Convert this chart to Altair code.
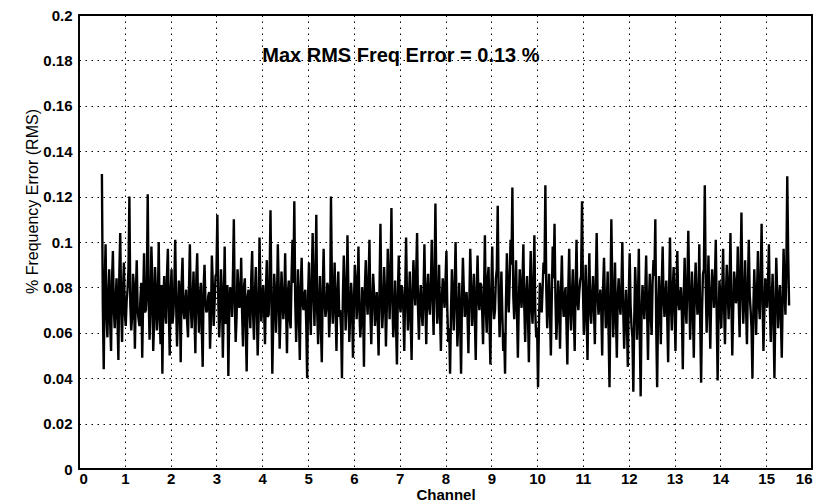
import altair as alt
import pandas as pd

# RMS frequency error (thousandths of a percent), read every 0.04 channel from 0.5 to 15.5
ERR_MILLI = [
    130, 44, 99, 58, 88, 52, 96, 62, 84, 48, 104, 56, 91, 63, 79, 120, 61, 86, 53, 92, 66, 75, 49, 95, 70,
    121, 57, 98, 52, 89, 61, 100, 55, 42, 85, 64, 97, 50, 88, 68, 101, 54, 83, 47, 93, 66, 79, 58, 99, 62,
    87, 51, 95, 60, 82, 45, 90, 69, 76, 53, 94, 63, 85, 112, 58, 88, 49, 98, 65, 41, 80, 67, 110, 56, 88,
    71, 93, 54, 84, 43, 79, 62, 96, 57, 89, 50, 102, 65, 81, 55, 92, 68, 114, 42, 86, 60, 99, 53, 87, 66,
    95, 51, 83, 62, 101, 118, 56, 88, 48, 93, 70, 79, 40, 91, 59, 104, 63, 112, 55, 85, 47, 97, 67, 82, 58,
    120, 64, 91, 52, 87, 70, 40, 94, 61, 103, 56, 82, 49, 90, 66, 98, 58, 80, 45, 92, 68, 101, 55, 86, 63,
    78, 50, 108, 62, 89, 54, 97, 66, 115, 58, 83, 46, 94, 69, 79, 52, 102, 61, 87, 48, 92, 72, 104, 57, 81,
    63, 99, 55, 86, 68, 101, 59, 117, 64, 90, 52, 84, 71, 96, 56, 42, 88, 61, 100, 54, 82, 42, 93, 67, 78,
    51, 97, 63, 86, 48, 94, 70, 81, 55, 103, 60, 89, 46, 98, 66, 84, 116, 58, 87, 52, 42, 95, 69, 101, 124,
    66, 92, 49, 88, 71, 99, 56, 85, 47, 96, 64, 103, 58, 36, 82, 69, 91, 125, 62, 86, 50, 98, 108, 57, 83,
    53, 94, 67, 80, 46, 97, 61, 88, 52, 101, 70, 83, 118, 59, 90, 48, 95, 64, 85, 55, 104, 68, 79, 50, 93,
    62, 87, 36, 110, 58, 91, 49, 84, 68, 100, 53, 79, 45, 95, 63, 34, 89, 57, 97, 32, 81, 66, 94, 48, 86,
    59, 92, 110, 36, 85, 55, 98, 67, 83, 47, 102, 61, 89, 52, 96, 70, 80, 44, 93, 64, 105, 57, 87, 49, 91,
    68, 99, 38, 86, 125, 60, 94, 53, 88, 71, 101, 39, 83, 62, 97, 55, 90, 66, 104, 50, 87, 73, 98, 58, 113,
    64, 92, 55, 101, 70, 40, 88, 59, 96, 66, 108, 52, 84, 71, 99, 56, 86, 40, 93, 62, 81, 49, 97, 68, 129,
    72,
]
# readings half-way between the samples above (0.52, 0.56, ... channel)
MID_MILLI = [
    72, 81, 68, 77, 64, 83, 70, 75, 66, 86, 71, 78, 69, 74, 88, 73, 67, 80, 76, 70, 63, 82, 74, 69, 79,
    76, 70, 84, 65, 78, 72, 67, 81, 74, 69, 85, 71, 77, 64, 80, 73, 68, 76, 82, 70, 74, 65, 79, 72, 75,
    68, 83, 71, 77, 62, 80, 74, 70, 78, 66, 82, 73, 86, 75, 69, 77, 72, 64, 81, 70, 78, 85, 73, 67, 80,
    74, 69, 80, 63, 76, 71, 84, 68, 77, 72, 66, 81, 74, 70, 79, 67, 83, 75, 65, 78, 72, 80, 69, 76, 73,
    70, 78, 66, 85, 82, 74, 71, 67, 80, 73, 77, 64, 76, 70, 82, 78, 84, 69, 73, 62, 79, 74, 71, 80, 68,
    84, 75, 70, 78, 67, 62, 76, 81, 72, 79, 68, 74, 71, 83, 77, 70, 65, 74, 80, 76, 82, 69, 73, 78, 70,
    66, 80, 75, 71, 78, 72, 83, 85, 74, 68, 63, 77, 73, 81, 70, 79, 75, 72, 66, 78, 80, 86, 71, 74, 69,
    77, 73, 79, 72, 81, 76, 84, 80, 72, 68, 75, 78, 83, 70, 62, 69, 74, 80, 73, 66, 64, 75, 79, 71, 68,
    74, 80, 72, 67, 78, 75, 82, 70, 77, 71, 84, 65, 79, 73, 70, 88, 77, 72, 69, 60, 74, 78, 82, 90, 76,
    77, 70, 73, 78, 83, 71, 76, 68, 79, 72, 81, 69, 62, 64, 75, 80, 86, 79, 73, 70, 76, 84, 75, 68, 72,
    78, 73, 76, 64, 79, 71, 77, 69, 80, 74, 78, 85, 80, 72, 67, 79, 70, 76, 71, 82, 77, 73, 70, 80, 75,
    72, 60, 74, 82, 71, 67, 76, 73, 80, 70, 68, 64, 76, 72, 58, 66, 77, 74, 60, 69, 73, 78, 70, 74, 68,
    82, 85, 62, 70, 72, 81, 75, 77, 66, 78, 73, 79, 71, 80, 74, 77, 68, 76, 71, 83, 79, 72, 70, 78, 77,
    73, 64, 70, 88, 82, 75, 71, 76, 80, 83, 68, 66, 75, 78, 72, 76, 79, 81, 73, 70, 82, 77, 74, 86, 78,
    76, 71, 80, 77, 62, 70, 75, 78, 73, 84, 76, 69, 77, 83, 72, 74, 66, 71, 78, 73, 67, 75, 80, 88, 95,
]
CH_START = 0.5
CH_STEP = 0.04

X_DOMAIN = [0, 16]
Y_DOMAIN = [0, 0.2]
X_TICKS = list(range(0, 17))
Y_TICKS = [0, 0.02, 0.04, 0.06, 0.08, 0.1, 0.12, 0.14, 0.16, 0.18, 0.2]

ANNOT_TEXT = ["Max RMS Freq Error = 0.13 %"]
ANNOT_X = [4.0]
ANNOT_Y = [0.182]

chan, err = [], []
for i, v in enumerate(ERR_MILLI):
    chan.append(CH_START + CH_STEP * i)
    err.append(v / 1000)
    if i < len(MID_MILLI) and i < len(ERR_MILLI) - 1:
        chan.append(CH_START + CH_STEP * i + CH_STEP / 2)
        err.append(MID_MILLI[i] / 1000)

df = pd.DataFrame({"channel": chan, "err": err})
ann = pd.DataFrame({"x": ANNOT_X, "y": ANNOT_Y, "t": ANNOT_TEXT})
frame = pd.DataFrame({"x0": [X_DOMAIN[0]], "x1": [X_DOMAIN[1]],
                      "y0": [Y_DOMAIN[0]], "y1": [Y_DOMAIN[1]]})

FONT = "Liberation Sans"

xscale = alt.Scale(domain=X_DOMAIN, nice=False, zero=False)
yscale = alt.Scale(domain=Y_DOMAIN, nice=False)

GRID = dict(grid=True, gridDash=[1.5, 4.5], gridColor="black", gridOpacity=1, gridWidth=1)

line = alt.Chart(df).mark_line(color="black", strokeWidth=2.4).encode(
    x=alt.X("channel:Q", scale=xscale,
            axis=alt.Axis(values=X_TICKS, format="d", title="Channel", ticks=False, domain=False,
                          labelFont=FONT, labelFontSize=15, labelFontWeight="bold",
                          labelColor="black", labelPadding=2,
                          titleFont=FONT, titleFontSize=15, titleFontWeight="bold",
                          titleColor="black", titlePadding=1, **GRID)),
    y=alt.Y("err:Q", scale=yscale,
            axis=alt.Axis(values=Y_TICKS, format="~g", title="% Frequency Error (RMS)",
                          ticks=False, domain=False,
                          labelFont=FONT, labelFontSize=15, labelFontWeight="bold",
                          labelColor="black", labelPadding=7,
                          titleFont=FONT, titleFontSize=16, titleFontWeight="normal",
                          titleColor="black", titleX=-39, titleY=186, **GRID)),
)

box = alt.Chart(frame).mark_rect(fill="white", fillOpacity=0, stroke="#000000",
                                 strokeOpacity=1, strokeWidth=1.8).encode(
    x=alt.X("x0:Q", scale=xscale),
    x2="x1:Q",
    y=alt.Y("y0:Q", scale=yscale),
    y2="y1:Q",
)

text = alt.Chart(ann).mark_text(align="left", baseline="middle", font=FONT,
                                fontSize=20, fontWeight="bold", color="black").encode(
    x=alt.X("x:Q", scale=xscale),
    y=alt.Y("y:Q", scale=yscale),
    text="t:N",
)

chart = (line + box + text).properties(
    width=733, height=454,
    background="white",
    autosize=alt.AutoSizeParams(type="none"),
    padding={"left": 71, "top": 7, "right": 1, "bottom": 32},
).configure_view(stroke="#000000", strokeWidth=1.5, strokeOpacity=1)

chart.save("out.html", embed_options={"renderer": "svg", "actions": False})
